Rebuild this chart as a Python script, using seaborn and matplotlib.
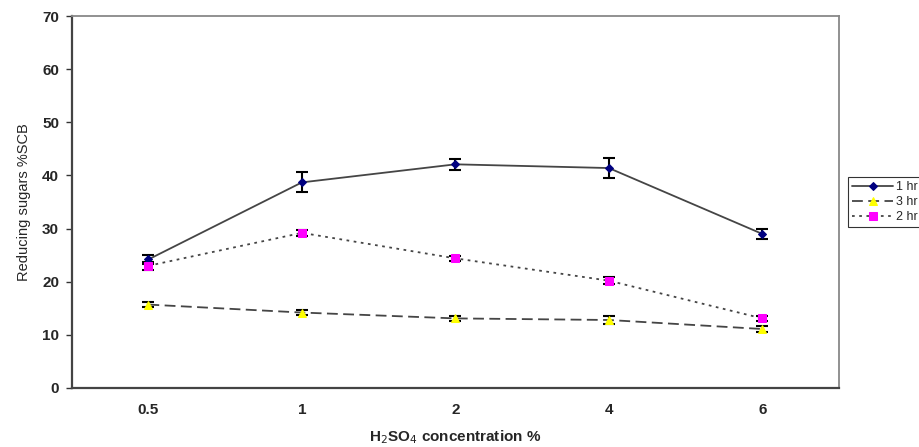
import matplotlib
matplotlib.use('Agg')
import matplotlib.pyplot as plt
import seaborn as sb
import pandas as pd
import numpy as np

# H2SO4 concentration categories
conc = ['0.5', '1', '2', '4', '6']

# reducing sugars (%SCB) and error bars per hydrolysis time
hr1 = [24.2, 38.7, 42.1, 41.4, 29.0]
hr1_err = [0.8, 1.9, 1.0, 1.9, 1.0]
hr3 = [15.7, 14.2, 13.1, 12.8, 11.1]
hr3_err = [0.5, 0.4, 0.4, 0.7, 0.5]
hr2 = [23.0, 29.2, 24.4, 20.2, 13.1]
hr2_err = [0.7, 0.6, 0.5, 0.7, 0.4]

series = [
    ('1 hr', hr1, hr1_err, '-', 'D', '#000080', 4.5),
    ('3 hr', hr3, hr3_err, (0, (6, 3)), '^', '#ffff00', 6),
    ('2 hr', hr2, hr2_err, (0, (1.5, 2.5)), 's', '#ff00ff', 6),
]

sb.set_style('white')
plt.rcParams['font.family'] = ['Liberation Sans', 'DejaVu Sans']

fig = plt.figure(figsize=(9.19, 4.47), dpi=100)
ax = fig.add_axes([0.078, 0.132, 0.835, 0.832])

pos = np.arange(len(conc))
for name, vals, err, ls, mk, col, ms in series:
    df = pd.DataFrame({'x': pos, 'y': vals})
    ax.errorbar(pos, vals, yerr=err, fmt='none', ecolor='black',
                elinewidth=1.5, capsize=4, capthick=1.5, zorder=3)
    sb.lineplot(data=df, x='x', y='y', ax=ax, color='#454545', linestyle=ls,
                linewidth=1.3, marker=mk, markersize=ms, markerfacecolor=col,
                markeredgecolor=col, zorder=4, label=name)

ax.set_xlim(-0.5, len(conc) - 0.5)
ax.set_ylim(0, 70)
ax.set_yticks(range(0, 71, 10))
ax.set_yticklabels([str(v) for v in range(0, 71, 10)], fontsize=11, fontweight='bold')
ax.set_xticks(pos)
ax.set_xticklabels(conc, fontsize=11, fontweight='bold')
ax.set_xticks(np.arange(len(conc) + 1) - 0.5, minor=True)
ax.tick_params(axis='x', which='major', length=0, pad=11)
ax.tick_params(axis='x', which='minor', length=4, width=1, direction='out', color='#333333')
ax.tick_params(axis='y', length=4, width=1, direction='out', color='#333333', left=True, pad=5)

ax.set_xlabel('H$_2$SO$_4$ concentration %', fontsize=11, fontweight='bold', labelpad=8)
ax.set_ylabel('Reducing sugars %SCB', fontsize=10.5, labelpad=8)

for side in ['left', 'bottom']:
    ax.spines[side].set_color('#444444')
    ax.spines[side].set_linewidth(1.6)
for side in ['top', 'right']:
    ax.spines[side].set_color('#888888')
    ax.spines[side].set_linewidth(1.3)

leg = ax.legend(loc='center left', bbox_to_anchor=(1.012, 0.5), fontsize=9,
                handlelength=3.3, frameon=True, fancybox=False, borderpad=0.3,
                labelspacing=0.25, handletextpad=0.2, borderaxespad=0)
leg.get_frame().set_edgecolor('black')
leg.get_frame().set_linewidth(0.8)

fig.savefig('out.png', dpi=100)
